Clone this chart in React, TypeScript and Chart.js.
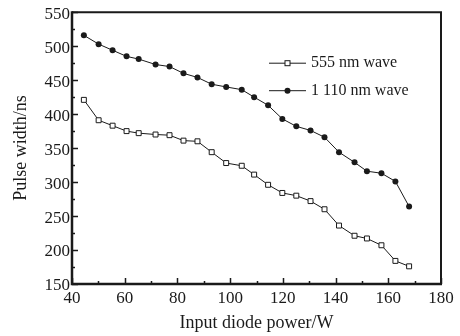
import React, { useEffect, useRef } from "react";
import { Chart, registerables } from "chart.js";

Chart.register(...registerables);

// ---- data ----
const POWER = [
  44.5, 50.1, 55.4, 60.7, 65.3, 71.7, 77.0, 82.3, 87.6, 93.0, 98.5, 104.4,
  109.1, 114.4, 119.8, 125.1, 130.5, 135.8, 141.3, 147.2, 151.9, 157.4, 162.7, 167.9,
];
const WAVE_555 = [
  421, 391, 383, 375, 372, 370, 369, 361, 360, 344, 328, 324,
  311, 296, 284, 280, 272, 260, 236, 221, 217, 207, 184, 176,
];
const WAVE_1110 = [
  516, 503, 494, 485, 481, 473, 470, 460, 454, 444, 440, 436,
  425, 413, 393, 382, 376, 366, 344, 329, 316, 313, 301, 264,
];
const X_TICKS = [40, 60, 80, 100, 120, 140, 160, 180];
const Y_TICKS = [150, 200, 250, 300, 350, 400, 450, 500, 550];
const SERIES_LABELS = ["555 nm wave", "1 110 nm wave"];
const X_TITLE = "Input diode power/W";
const Y_TITLE = "Pulse width/ns";

const FONT = "'Liberation Serif', 'Times New Roman', serif";
const INK = "#1a1a1a";

const framePlugin = {
  id: "frameTicks",
  afterDatasetsDraw(chart: any) {
    const { ctx, chartArea } = chart;
    const { left, right, top, bottom } = chartArea;
    const xs = chart.scales.x;
    const ys = chart.scales.y;
    ctx.save();
    ctx.strokeStyle = INK;
    // ticks (inward)
    ctx.lineWidth = 1.5;
    const xMinor: number[] = [];
    for (let i = 0; i < X_TICKS.length - 1; i++) xMinor.push((X_TICKS[i] + X_TICKS[i + 1]) / 2);
    const yMinor: number[] = [];
    for (let i = 0; i < Y_TICKS.length - 1; i++) yMinor.push((Y_TICKS[i] + Y_TICKS[i + 1]) / 2);
    ctx.beginPath();
    X_TICKS.forEach((v) => {
      const p = Math.round(xs.getPixelForValue(v)) + 0.5;
      ctx.moveTo(p, bottom);
      ctx.lineTo(p, bottom - 6);
    });
    xMinor.forEach((v) => {
      const p = Math.round(xs.getPixelForValue(v)) + 0.5;
      ctx.moveTo(p, bottom);
      ctx.lineTo(p, bottom - 3);
    });
    Y_TICKS.forEach((v) => {
      const p = Math.round(ys.getPixelForValue(v)) + 0.5;
      ctx.moveTo(left, p);
      ctx.lineTo(left + 6, p);
    });
    yMinor.forEach((v) => {
      const p = Math.round(ys.getPixelForValue(v)) + 0.5;
      ctx.moveTo(left, p);
      ctx.lineTo(left + 3, p);
    });
    ctx.stroke();
    // frame
    ctx.lineWidth = 2;
    ctx.beginPath();
    ctx.moveTo(left, top);
    ctx.lineTo(right, top);
    ctx.lineTo(right, bottom);
    ctx.stroke();
    ctx.lineWidth = 2.5;
    ctx.beginPath();
    ctx.moveTo(left, top - 1);
    ctx.lineTo(left, bottom);
    ctx.lineTo(right + 1, bottom);
    ctx.stroke();
    ctx.restore();
  },
  afterDraw(chart: any) {
    const { ctx, chartArea } = chart;
    const x0 = chartArea.left + 197;
    const x1 = chartArea.left + 234;
    const xm = (x0 + x1) / 2;
    ctx.save();
    ctx.font = `16px ${FONT}`;
    ctx.textBaseline = "middle";
    ctx.textAlign = "left";
    SERIES_LABELS.forEach((label, i) => {
      const y = chartArea.top + 51 + i * 27.5;
      ctx.strokeStyle = INK;
      ctx.lineWidth = 1;
      ctx.beginPath();
      ctx.moveTo(x0, y);
      ctx.lineTo(x1, y);
      ctx.stroke();
      if (i === 0) {
        ctx.fillStyle = "#fff";
        ctx.fillRect(xm - 2.5, y - 2.5, 5, 5);
        ctx.strokeRect(xm - 2.5, y - 2.5, 5, 5);
      } else {
        ctx.fillStyle = INK;
        ctx.beginPath();
        ctx.arc(xm, y, 3, 0, Math.PI * 2);
        ctx.fill();
      }
      ctx.fillStyle = INK;
      ctx.fillText(label, x1 + 5, y);
    });
    ctx.restore();
  },
};

export default function App() {
  const ref = useRef<HTMLCanvasElement | null>(null);
  useEffect(() => {
    if (!ref.current) return;
    const chart = new Chart(ref.current, {
      type: "line",
      data: {
        datasets: [
          {
            label: SERIES_LABELS[0],
            data: POWER.map((x, i) => ({ x, y: WAVE_555[i] })),
            borderColor: INK,
            borderWidth: 1,
            pointStyle: "rect",
            pointRadius: 3.5,
            pointBackgroundColor: "#ffffff",
            pointBorderColor: INK,
            pointBorderWidth: 1,
            tension: 0,
          },
          {
            label: SERIES_LABELS[1],
            data: POWER.map((x, i) => ({ x, y: WAVE_1110[i] })),
            borderColor: INK,
            borderWidth: 1,
            pointStyle: "circle",
            pointRadius: 3,
            pointBackgroundColor: INK,
            pointBorderColor: INK,
            pointBorderWidth: 0,
            tension: 0,
          },
        ],
      },
      options: {
        animation: false,
        responsive: false,
        layout: { padding: { left: 0, top: 11, right: 19, bottom: 0 } },
        plugins: { legend: { display: false }, tooltip: { enabled: false } },
        scales: {
          x: {
            type: "linear",
            min: 40,
            max: 180,
            afterBuildTicks: (s: any) => {
              s.ticks = X_TICKS.map((v) => ({ value: v }));
            },
            afterFit: (s: any) => {
              s.height = 52;
            },
            grid: { display: false, drawTicks: false },
            border: { display: false },
            ticks: {
              color: INK,
              font: { family: FONT, size: 17 },
              padding: 4,
              maxRotation: 0,
              autoSkip: false,
            },
            title: {
              display: true,
              text: X_TITLE,
              color: INK,
              font: { family: FONT, size: 18 },
              padding: { top: 0, bottom: 2 },
            },
          },
          y: {
            type: "linear",
            min: 150,
            max: 550,
            afterBuildTicks: (s: any) => {
              s.ticks = Y_TICKS.map((v) => ({ value: v }));
            },
            afterFit: (s: any) => {
              s.width = 72;
            },
            grid: { display: false, drawTicks: false },
            border: { display: false },
            ticks: {
              color: INK,
              font: { family: FONT, size: 17 },
              padding: 2,
              labelOffset: 2,
              autoSkip: false,
            },
            title: {
              display: true,
              text: Y_TITLE,
              color: INK,
              font: { family: FONT, size: 18 },
              padding: { top: 10, bottom: 0 },
            },
          },
        },
      },
      plugins: [framePlugin],
    } as any);
    return () => chart.destroy();
  }, []);
  return (
    <div style={{ position: "fixed", left: 0, top: 0, width: 460, height: 336, background: "#fff" }}>
      <canvas ref={ref} width={460} height={336} style={{ display: "block" }} />
    </div>
  );
}
